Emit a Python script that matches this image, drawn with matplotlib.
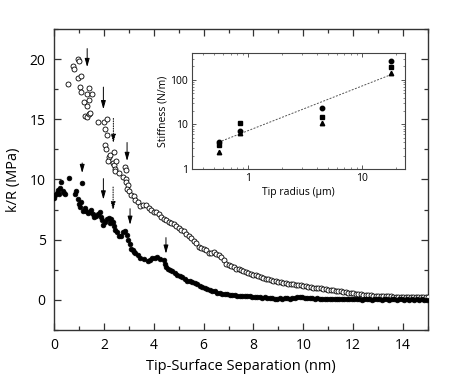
import numpy as np
import matplotlib
matplotlib.use("Agg")
import matplotlib.pyplot as plt
from matplotlib.ticker import MultipleLocator, LogLocator, NullFormatter, FixedLocator, FixedFormatter

plt.rcParams['font.family'] = ['Open Sans', 'DejaVu Sans']

# filled circles (lower curve)
filled_x = [0.00, 0.05, 0.10, 0.15, 0.20, 0.25, 0.30, 0.35, 0.40, 0.45, 0.60, 0.85, 0.90, 0.95,
            1.00, 1.05, 1.10, 1.12, 1.15, 1.25, 1.30, 1.38, 1.45, 1.50, 1.55, 1.62, 1.68, 1.75,
            1.85, 1.88, 1.92, 1.98, 2.05, 2.12, 2.20, 2.25, 2.30, 2.35, 2.40, 2.45, 2.52, 2.60,
            2.68, 2.75, 2.85, 2.92, 2.98, 3.05, 3.10, 3.15, 3.20, 3.25, 3.35, 3.45, 3.60, 3.75,
            3.85, 3.95, 4.05, 4.15, 4.25, 4.40, 4.45, 4.50, 4.58, 4.65, 4.75, 4.85, 4.95, 5.05,
            5.15, 5.25, 5.35, 5.45, 5.55, 5.65, 5.75, 5.85, 5.95, 6.05, 6.15, 6.25, 6.35, 6.45,
            6.55, 6.65, 6.75, 6.85, 6.95, 7.05, 7.15, 7.25, 7.35, 7.45, 7.55, 7.65, 7.75, 7.85,
            7.95, 8.05, 8.15, 8.25, 8.35, 8.45, 8.55, 8.65, 8.75, 8.85, 8.95, 9.05, 9.15, 9.25,
            9.35, 9.45, 9.55, 9.65, 9.75, 9.85, 9.95, 10.05, 10.15, 10.25, 10.35, 10.45, 10.55,
            10.65, 10.75, 10.85, 10.95, 11.05, 11.15, 11.25, 11.35, 11.45, 11.55, 11.65, 11.75,
            11.85, 11.95, 12.05, 12.15, 12.25, 12.35, 12.45, 12.55, 12.65, 12.75, 12.85, 12.95,
            13.05, 13.15, 13.25, 13.35, 13.45, 13.55, 13.65, 13.75, 13.85, 13.95, 14.05, 14.15,
            14.25, 14.35, 14.45, 14.55, 14.65, 14.75, 14.85, 14.95]
filled_y = [8.5, 8.7, 8.9, 9.1, 8.8, 9.3, 9.8, 9.0, 8.9, 8.8, 10.1, 8.8, 9.0, 8.4,
            8.0, 7.7, 8.1, 9.7, 7.4, 7.6, 7.4, 7.2, 7.3, 7.5, 7.1, 6.9, 7.0, 7.1,
            7.3, 6.9, 6.6, 6.2, 6.5, 6.7, 6.8, 6.4, 6.7, 6.5, 6.1, 5.8, 5.6, 5.3,
            5.3, 5.6, 5.7, 5.4, 5.0, 4.6, 4.2, 4.1, 4.0, 3.9, 3.7, 3.5, 3.4, 3.2,
            3.3, 3.5, 3.5, 3.6, 3.4, 3.3, 3.0, 2.7, 2.6, 2.5, 2.4, 2.2, 2.1, 2.0,
            1.9, 1.7, 1.6, 1.55, 1.45, 1.4, 1.3, 1.15, 1.1, 1.0, 0.9, 0.85, 0.75, 0.7,
            0.6, 0.55, 0.5, 0.48, 0.45, 0.42, 0.4, 0.38, 0.35, 0.33, 0.32, 0.3, 0.28, 0.3,
            0.25, 0.22, 0.25, 0.2, 0.18, 0.2, 0.15, 0.12, 0.15, 0.1, 0.1, 0.12, 0.08, 0.12,
            0.15, 0.1, 0.15, 0.18, 0.2, 0.22, 0.2, 0.18, 0.15, 0.12, 0.15, 0.1, 0.12,
            0.08, 0.1, 0.05, 0.08, 0.05, 0.06, 0.04, 0.07, 0.05, 0.03, 0.06, 0.05,
            0.04, 0.06, 0.03, 0.05, 0.04, 0.02, 0.05, 0.03, 0.04, 0.02, 0.05, 0.03,
            0.04, 0.02, 0.03, 0.05, 0.02, 0.04, 0.03, 0.02, 0.04, 0.03, 0.02, 0.03,
            0.02, 0.04, 0.02, 0.03, 0.01, 0.03, 0.02, 0.02]

# open circles (upper curve)
open_x = [0.56, 0.75, 0.80, 0.98, 1.00, 0.96, 1.08, 1.04, 1.08, 1.40, 1.32, 1.52, 1.20, 1.40,
          1.33, 1.25, 1.32, 1.40, 1.45, 1.78, 2.00, 2.13, 2.05, 2.14, 2.05, 2.07, 2.20, 2.17,
          2.25, 2.40, 2.36, 2.42, 2.50, 2.45, 2.45, 2.60, 2.75, 2.90, 2.88, 2.85, 2.90, 2.95,
          2.92, 3.00, 3.10, 3.20, 3.25, 3.35, 3.45, 3.55, 3.70, 3.80, 3.90, 4.00, 4.10, 4.20,
          4.30, 4.40, 4.50, 4.60, 4.70, 4.80, 4.90, 5.00, 5.10, 5.20, 5.30, 5.40, 5.50, 5.60,
          5.70, 5.80, 5.90, 6.00, 6.10, 6.20, 6.30, 6.40, 6.50, 6.60, 6.70, 6.80, 6.90, 7.00,
          7.10, 7.20, 7.30, 7.40, 7.50, 7.60, 7.70, 7.80, 7.90, 8.00, 8.10, 8.20, 8.30, 8.40,
          8.50, 8.60, 8.70, 8.80, 8.90, 9.00, 9.10, 9.20, 9.30, 9.40, 9.50, 9.60, 9.70, 9.80,
          9.90, 10.00, 10.10, 10.20, 10.30, 10.40, 10.50, 10.60, 10.70, 10.80, 10.90, 11.00,
          11.10, 11.20, 11.30, 11.40, 11.50, 11.60, 11.70, 11.80, 11.90, 12.00, 12.10, 12.20,
          12.30, 12.40, 12.50, 12.60, 12.70, 12.80, 12.90, 13.00, 13.10, 13.20, 13.30, 13.40,
          13.50, 13.60, 13.70, 13.80, 13.90, 14.00, 14.10, 14.20, 14.30, 14.40, 14.50, 14.60,
          14.70, 14.80, 14.90, 15.00]
open_y = [17.9, 19.4, 19.2, 20.0, 19.8, 18.4, 18.6, 17.7, 17.3, 17.6, 17.1, 17.1, 16.4, 16.6,
          16.1, 15.3, 15.2, 15.4, 15.5, 14.8, 14.8, 15.0, 14.2, 13.7, 12.9, 12.5, 11.9, 11.5,
          12.0, 12.3, 11.4, 11.2, 11.5, 10.9, 10.7, 10.5, 10.2, 10.0, 9.8, 11.0, 10.8, 9.5,
          9.2, 9.0, 8.7, 8.6, 8.3, 8.1, 7.8, 7.9, 7.9, 7.6, 7.5, 7.3, 7.3, 7.1,
          6.9, 6.7, 6.6, 6.5, 6.4, 6.3, 6.1, 6.0, 5.8, 5.7, 5.5, 5.3, 5.1, 4.9,
          4.7, 4.4, 4.3, 4.2, 4.1, 3.9, 3.9, 4.0, 3.8, 3.7, 3.6, 3.3, 3.0, 2.9,
          2.8, 2.7, 2.6, 2.55, 2.45, 2.4, 2.3, 2.2, 2.15, 2.1, 2.05, 1.95, 1.9, 1.85,
          1.75, 1.7, 1.65, 1.6, 1.55, 1.5, 1.45, 1.4, 1.38, 1.35, 1.3, 1.28, 1.25, 1.22,
          1.2, 1.15, 1.12, 1.1, 1.05, 1.02, 1.0, 0.97, 0.95, 0.92, 0.88, 0.85,
          0.82, 0.8, 0.76, 0.72, 0.7, 0.66, 0.62, 0.6, 0.57, 0.55, 0.52, 0.5,
          0.47, 0.44, 0.42, 0.4, 0.38, 0.36, 0.35, 0.33, 0.32, 0.3, 0.3, 0.28,
          0.28, 0.27, 0.26, 0.26, 0.25, 0.24, 0.24, 0.23, 0.22, 0.22, 0.21, 0.21,
          0.2, 0.2, 0.2, 0.2]

# arrows: x, tail y, head y
solid_arrows = [(1.33, 21.1, 19.1), (1.98, 17.9, 15.6), (2.93, 13.3, 11.3),
                (1.13, 11.6, 10.3), (1.98, 10.3, 8.1), (3.05, 7.8, 6.0), (4.49, 5.4, 3.6)]
dotted_arrows = [(2.38, 15.3, 12.8), (2.37, 9.6, 7.2)]

# inset data
tip_radius = [0.55, 0.85, 4.5, 18]
stiff_circle = [4.0, 7.0, 23, 260]
stiff_square = [3.4, 10.5, 15, 190]
stiff_triangle = [2.4, 6.5, 11, 140]
fit_x = [0.55, 18]
fit_y = [4.0, 130]

fig = plt.figure(figsize=(4.52, 3.81), dpi=100)
ax = fig.add_axes([0.1195, 0.134, 0.8274, 0.790])

ax.plot(open_x, open_y, 'o', mfc='white', mec='black', ms=3.6, mew=0.6, zorder=3)
ax.plot(filled_x, filled_y, 'o', mfc='black', mec='black', ms=3.4, mew=0.5, zorder=4)

for x, y0, y1 in solid_arrows:
    ax.annotate('', xy=(x, y1), xytext=(x, y0),
                arrowprops=dict(arrowstyle='-|>,head_length=0.5,head_width=0.14', lw=0.7, color='black'))
for x, y0, y1 in dotted_arrows:
    ax.annotate('', xy=(x, y1), xytext=(x, y0),
                arrowprops=dict(arrowstyle='-|>,head_length=0.5,head_width=0.14', lw=0.7,
                                color='black', linestyle=(0, (1, 1.5))))

ax.set_xlim(0, 15)
ax.set_ylim(-2.5, 22.5)
ax.xaxis.set_major_locator(FixedLocator([0, 2, 4, 6, 8, 10, 12, 14]))
ax.xaxis.set_minor_locator(MultipleLocator(1))
ax.yaxis.set_major_locator(FixedLocator([0, 5, 10, 15, 20]))
ax.yaxis.set_minor_locator(MultipleLocator(2.5))
ax.tick_params(which='both', direction='in', top=True, right=True, color='#333333')
ax.tick_params(which='major', length=5, width=0.9, labelsize=10, pad=6)
ax.tick_params(which='minor', length=3, width=0.9)
for s in ax.spines.values():
    s.set_linewidth(1.0)
    s.set_color('#333333')
ax.set_xlabel('Tip-Surface Separation (nm)', fontsize=10.5, labelpad=4)
ax.set_ylabel('k/R (MPa)', fontsize=10.5, labelpad=6)

# inset
ins = fig.add_axes([0.4248, 0.5564, 0.471, 0.3045])
ins.plot(fit_x, fit_y, linestyle=(0, (2, 1.5)), color='#555555', lw=0.7)
ins.plot(tip_radius, stiff_circle, 'o', color='black', ms=3.2)
ins.plot(tip_radius, stiff_square, 's', color='black', ms=3.0)
ins.plot(tip_radius, stiff_triangle, '^', color='black', ms=3.2)
ins.set_xscale('log')
ins.set_yscale('log')
ins.set_xlim(0.32, 24)
ins.set_ylim(1, 400)
ins.xaxis.set_major_locator(FixedLocator([1, 10]))
ins.xaxis.set_major_formatter(FixedFormatter(['1', '10']))
ins.xaxis.set_minor_locator(LogLocator(subs=np.arange(2, 10)))
ins.xaxis.set_minor_formatter(NullFormatter())
ins.yaxis.set_major_locator(FixedLocator([1, 10, 100]))
ins.yaxis.set_major_formatter(FixedFormatter(['1', '10', '100']))
ins.yaxis.set_minor_locator(LogLocator(subs=np.arange(2, 10)))
ins.yaxis.set_minor_formatter(NullFormatter())
ins.tick_params(which='both', direction='in', top=True, right=True, color='#555555')
ins.tick_params(which='major', length=3, width=0.7, labelsize=7.5, pad=3)
ins.tick_params(which='minor', length=1.5, width=0.5)
for s in ins.spines.values():
    s.set_linewidth(0.8)
    s.set_color('#444444')
ins.set_xlabel('Tip radius (\u03bcm)', fontsize=7.5, labelpad=2)
ins.set_ylabel('Stiffness (N/m)', fontsize=7.5, labelpad=1)

fig.savefig('out.png', dpi=100)
